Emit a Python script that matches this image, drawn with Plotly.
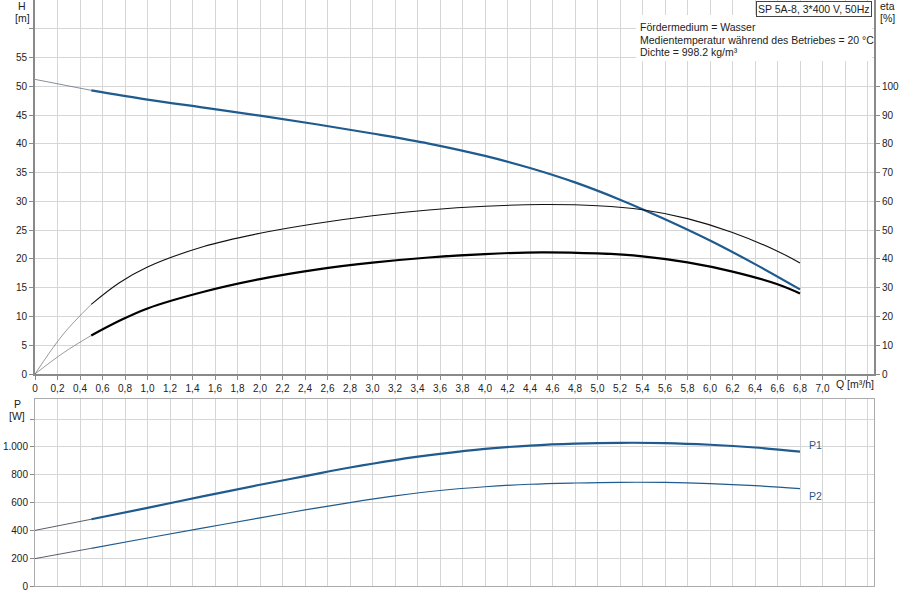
import numpy as np
import plotly.graph_objects as go

# Förderhöhe H [m]
q_h = [0, 0.5, 1.0, 1.5, 2.0, 2.5, 3.0, 3.5, 4.0, 4.4, 4.8, 5.2, 5.6, 6.0, 6.4, 6.8]
h = [51.2, 49.3, 47.7, 46.3, 44.9, 43.4, 41.8, 40.05, 37.9, 35.8, 33.3, 30.3, 26.9, 23.2, 19.1, 14.7]

# Wirkungsgrade eta [%]
q_eta = [0, 0.25, 0.5, 0.75, 1.0, 1.5, 2.0, 2.5, 3.0, 3.5, 4.0, 4.5, 5.0, 5.4, 5.8, 6.2, 6.6, 6.8]
eta_1 = [0, 13.8, 24.2, 31.7, 37.2, 44.3, 48.9, 52.3, 55.0, 57.0, 58.3, 58.9, 58.5, 57.1, 54.0, 49.2, 42.7, 38.6]
eta_2 = [0, 7.3, 13.4, 18.5, 22.8, 28.6, 33.0, 36.3, 38.7, 40.5, 41.7, 42.3, 41.9, 40.9, 38.8, 35.6, 31.2, 28.0]

# Leistung P [W]
q_p = [0, 0.5, 1.0, 1.5, 2.0, 2.4, 2.8, 3.2, 3.6, 4.0, 4.4, 4.8, 5.2, 5.6, 6.0, 6.4, 6.8]
p1 = [400, 480, 562, 646, 728, 790, 852, 906, 950, 986, 1010, 1024, 1030, 1028, 1016, 996, 967]
p2 = [197, 271, 345, 418, 490, 547, 600, 648, 687, 714, 732, 741, 746, 745, 737, 722, 700]

x_ticks = [round(i * 0.2, 1) for i in range(38)]
x_labels = ["0" if v == 0 else ("%.1f" % v).replace(".", ",") if v <= 7.0 else "" for v in x_ticks]

blue = "#1f5b8e"
grid = "#d6d6d6"
axis = "#8a8a8a"
font = dict(family="Liberation Sans, Arial", size=10, color="#222")


def split(q, v, q0=0.5):
    q = np.array(q)
    v = np.array(v)
    a = q <= q0
    b = q >= q0
    return (q[a], v[a]), (q[b], v[b])


fig = go.Figure()

def add_curve(q, v, color, w_thin, w_thick, xa, ya, thin_color=None):
    (qa, va), (qb, vb) = split(q, v)
    fig.add_trace(go.Scatter(x=qa, y=va, mode="lines", line=dict(color=thin_color or color, width=w_thin, shape="spline"),
                             xaxis=xa, yaxis=ya, showlegend=False, hoverinfo="skip"))
    fig.add_trace(go.Scatter(x=qb, y=vb, mode="lines", line=dict(color=color, width=w_thick, shape="spline"),
                             xaxis=xa, yaxis=ya, showlegend=False, hoverinfo="skip"))

add_curve(q_eta, eta_1, "#111", 0.6, 1.1, "x", "y2", "#555")
add_curve(q_eta, eta_2, "#000", 0.6, 2.2, "x", "y2", "#555")
add_curve(q_h, h, blue, 0.7, 2.2, "x", "y", "#556070")
add_curve(q_p, p1, blue, 0.8, 2.2, "x2", "y3", "#334")
add_curve(q_p, p2, blue, 0.8, 1.2, "x2", "y3", "#334")

xdom = [35 / 900, 874 / 900]
xrange = [0, 839 / 112.5]
common_x = dict(domain=xdom, range=xrange, tickvals=x_ticks, showgrid=True, gridcolor=grid, gridwidth=1,
                zeroline=False, ticks="outside", ticklen=4, tickcolor=axis, automargin=False)

fig.update_layout(
    width=900, height=600,
    margin=dict(l=0, r=0, t=0, b=0, pad=0),
    paper_bgcolor="white", plot_bgcolor="white",
    font=font,
    xaxis=dict(common_x, anchor="y", ticktext=x_labels, showline=True, linecolor=axis, linewidth=2),
    yaxis=dict(domain=[1 - 374 / 600, 1.0], range=[0, 65], tickvals=list(range(0, 61, 5)),
               ticktext=[str(v) for v in range(0, 56, 5)] + [""], showgrid=True, gridcolor=grid,
               zeroline=False, showline=True, linecolor=axis, linewidth=2, ticks="outside", ticklen=4,
               tickcolor=axis, anchor="x", automargin=False),
    yaxis2=dict(overlaying="y", side="right", range=[0, 130], tickvals=list(range(0, 101, 10)),
                showgrid=False, zeroline=False, showline=True, linecolor=axis, linewidth=2,
                ticks="outside", ticklen=4, tickcolor=axis, anchor="x", automargin=False),
    xaxis2=dict(common_x, anchor="y3", showticklabels=False, ticks="", showline=True, linecolor="#aaa",
                linewidth=1, mirror=True),
    yaxis3=dict(domain=[1 - 586 / 600, 1 - 399 / 600], range=[0, 1345], tickvals=list(range(0, 1201, 200)),
                ticktext=["0", "200", "400", "600", "800", "1.000", ""], showgrid=True, gridcolor=grid,
                zeroline=False, showline=True, linecolor="#aaa", linewidth=1, mirror=True,
                ticks="outside", ticklen=4, tickcolor=axis, anchor="x2", automargin=False),
)

# weißer Hintergrund hinter dem Infotext
fig.add_shape(type="rect", xref="paper", yref="paper", x0=636 / 900, x1=872 / 900, y0=1 - 61 / 600, y1=1 - 15 / 600,
              fillcolor="white", line=dict(width=0), layer="above")

def px(x, y, text, **kw):
    kw.setdefault("yanchor", "middle")
    kw.setdefault("xanchor", "center")
    fig.add_annotation(x=x / 900, y=1 - y / 600, xref="paper", yref="paper", text=text, showarrow=False, **kw)

px(872, 1, "SP 5A-8, 3*400 V, 50Hz", xanchor="right", yanchor="top", bordercolor="#444", borderwidth=1,
   borderpad=1, bgcolor="white", font=dict(size=10.5))
px(638, 27, "Fördermedium = Wasser", xanchor="left", font=dict(size=10.5))
px(638, 40, "Medientemperatur während des Betriebes = 20 °C", xanchor="left", font=dict(size=10.5))
px(638, 52, "Dichte = 998.2 kg/m³", xanchor="left", font=dict(size=10.5))
px(22, 6, "H", font=dict(size=10.5))
px(22, 18, "[m]", font=dict(size=10.5))
px(887, 6, "eta", font=dict(size=10.5))
px(887, 18, "[%]", font=dict(size=10.5))
px(17, 404, "P", font=dict(size=10.5))
px(17, 416, "[W]", font=dict(size=10.5))
px(834, 384, "Q [m³/h]", xanchor="left", font=dict(size=10.5))
px(807, 445, "P1", xanchor="left", font=dict(size=10.5, color=blue))
px(807, 496, "P2", xanchor="left", font=dict(size=10.5, color=blue))

# Seitenrand des Browsers entfernen, damit das Bild bündig sitzt
fig.write_html("out.html", config={"displayModeBar": False},
               post_script="document.body.style.margin='0';document.body.style.overflow='hidden';")
